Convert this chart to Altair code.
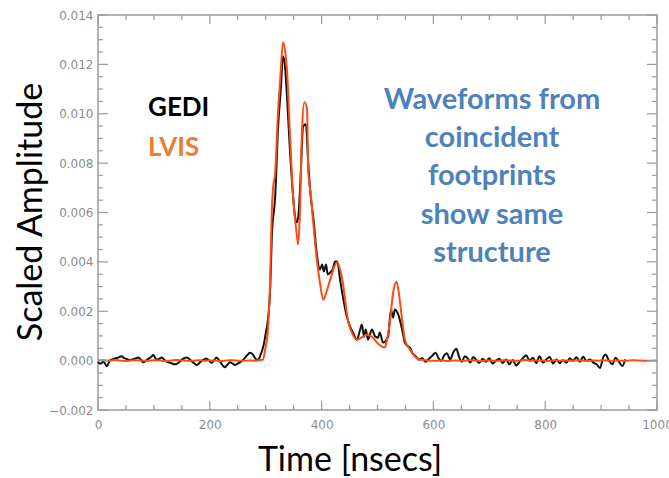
import altair as alt
import pandas as pd

# GEDI waveform (black): time [ns], amplitude in units of 1e-5
gedi_time = [0, 4, 10, 16, 21, 26, 30, 36, 42, 47, 51, 56, 60, 66, 72, 77, 81, 86, 90, 95,
             99, 102, 105, 110, 114, 118, 123, 128, 132, 137, 141, 146, 150, 155, 159, 164, 168, 173, 177, 182,
             186, 190, 194, 199, 203, 208, 212, 217, 221, 224, 227, 232, 236, 241, 245, 250, 254, 258, 262, 266,
             272, 277, 283, 287, 291, 296, 300, 304, 308, 311, 317, 322, 327, 331, 335, 338, 343, 349, 352, 356,
             359, 362, 367, 372, 376, 381, 385, 392, 397, 401, 404, 408, 411, 417, 420, 424, 428, 433, 438, 445,
             451, 456, 463, 469, 472, 476, 479, 483, 490, 496, 501, 504, 510, 519, 524, 528, 531, 537, 544, 549,
             555, 558, 562, 569, 574, 580, 586, 592, 598, 604, 609, 614, 619, 624, 630, 636, 641, 646, 651, 656,
             661, 666, 671, 676, 682, 688, 694, 700, 706, 712, 718, 724, 730, 736, 742, 748, 754, 760, 766, 772,
             778, 784, 790, 796, 802, 808, 814, 820, 826, 832, 838, 844, 850, 856, 862, 868, 874, 880, 886, 892,
             898, 904, 908, 914, 920, 926, 932, 938, 943]
gedi_amp = [-5, -13, -5, -23, 0, 5, 9, 12, 18, 10, 7, 2, 4, 8, 13, 3, -7, 0, 7, 15,
            23, 12, 4, 8, 13, 5, -4, -8, -11, -15, -13, -5, 4, 10, 13, 5, -4, -12, -18, -8,
            0, 5, 9, 0, -9, 2, 13, 0, -13, -22, -27, -15, -7, -12, -18, -12, -7, 0, 9, 20,
            32, 25, 5, 4, 25, 60, 110, 166, 288, 503, 665, 937, 1100, 1233, 1180, 1071, 868, 665, 592, 560,
            600, 720, 949, 957, 803, 653, 584, 422, 369, 389, 361, 389, 349, 361, 369, 402, 402, 329, 260, 179,
            138, 114, 85, 126, 146, 97, 126, 85, 126, 97, 93, 114, 73, 97, 207, 174, 207, 187, 126, 73,
            57, 53, 32, 16, 4, 10, -5, 8, 20, 32, 10, -2, 20, 30, 5, 35, 48, 15, -5, 18,
            10, -8, 15, 5, -10, 8, -5, 10, -12, 0, 8, -10, 5, -15, 3, -20, -5, 10, 22, 0,
            12, -10, 18, -8, 5, 15, -12, 5, -10, 2, -8, 10, 0, 14, -5, 16, -2, 5, -8, -15,
            -30, 15, 25, 0, -15, 12, -5, -22, 5]

# LVIS waveform (orange): time [ns], amplitude in units of 1e-5
lvis_time = [0, 10, 20, 30, 40, 50, 60, 70, 80, 90, 100, 110, 120, 130, 140, 150, 160, 170, 180, 190,
             200, 210, 220, 230, 240, 250, 260, 270, 280, 290, 295, 299, 304, 308, 311, 313, 317, 322, 326, 331,
             335, 338, 343, 349, 356, 358, 361, 365, 369, 374, 376, 381, 385, 392, 397, 403, 410, 417, 428, 433,
             438, 442, 447, 454, 463, 474, 481, 490, 499, 508, 513, 517, 522, 528, 534, 538, 544, 549, 558, 567,
             576, 585, 595, 605, 615, 625, 635, 645, 655, 665, 675, 685, 695, 705, 715, 725, 735, 745, 755, 765,
             775, 785, 795, 805, 815, 825, 835, 845, 855, 865, 875, 885, 895, 905, 915, 925, 935, 945, 955, 965,
             975, 985, 995, 1000]
lvis_amp = [1, 2, -1, 3, 0, -2, 1, 2, 0, -1, 2, 1, -2, 0, 3, 1, -1, 0, 2, -1,
            1, 0, -2, 1, 2, 0, -1, 1, 0, 2, 4, 45, 126, 329, 613, 694, 763, 1006, 1140, 1290,
            1250, 1180, 937, 665, 503, 471, 584, 937, 1047, 1018, 775, 665, 560, 398, 316, 247, 288, 341, 398, 369,
            316, 247, 166, 114, 85, 97, 105, 97, 73, 57, 53, 85, 154, 276, 320, 276, 166, 85, 45, 16,
            4, 2, 0, -1, 1, -2, 0, 1, -1, 2, 0, -2, 1, 0, -1, 2, 1, -1, 0, 3,
            -1, 1, 0, -2, 2, 0, 1, -1, 2, 0, -2, 1, 0, 2, -1, 1, 0, -1, 2, 1,
            0, -1, 1, 0]

x_major = [0, 200, 400, 600, 800, 1000]
x_minor = [50, 100, 150, 250, 300, 350, 450, 500, 550, 650, 700, 750, 850, 900, 950]
y_major = [-0.002, 0.0, 0.002, 0.004, 0.006, 0.008, 0.010, 0.012, 0.014]
y_minor = [-0.0015, -0.001, -0.0005, 0.0005, 0.001, 0.0015, 0.0025, 0.003, 0.0035,
           0.0045, 0.005, 0.0055, 0.0065, 0.007, 0.0075, 0.0085, 0.009, 0.0095,
           0.0105, 0.011, 0.0115, 0.0125, 0.013, 0.0135]

note_lines = ["Waveforms from", "coincident", "footprints", "show same", "structure"]

W, H = 559, 395
BOX = "#9a9a9a"
X0, X1 = 0, 1000
Y0, Y1 = -0.002, 0.014
px_x = (X1 - X0) / W   # data units per pixel
px_y = (Y1 - Y0) / H

gedi = pd.DataFrame({"t": gedi_time, "amp": [v * 1e-5 for v in gedi_amp]})
lvis = pd.DataFrame({"t": lvis_time, "amp": [v * 1e-5 for v in lvis_amp]})

# inward tick segments on all four sides of the box (data space)
rows = []
for vals, ln in [(x_major, 9), (x_minor, 5)]:
    for v in vals:
        rows.append({"x": v, "x2": v, "y": Y0, "y2": Y0 + ln * px_y})
        rows.append({"x": v, "x2": v, "y": Y1, "y2": Y1 - ln * px_y})
for vals, ln in [(y_major, 10), (y_minor, 5)]:
    for v in vals:
        rows.append({"x": X0, "x2": X0 + ln * px_x, "y": v, "y2": v})
        rows.append({"x": X1, "x2": X1 - ln * px_x, "y": v, "y2": v})
ticks = pd.DataFrame(rows)

xs = alt.Scale(domain=[X0, X1], nice=False, zero=False)
ys = alt.Scale(domain=[Y0, Y1], nice=False, zero=False)
XAX = alt.Axis(values=x_major, format="d", labelPadding=9, title="", labelFlush=False)
YAX = alt.Axis(values=y_major, format=".3f", labelPadding=5, title="", labelFlush=False)

gedi_line = alt.Chart(gedi).mark_line(color="#111111", strokeWidth=2, interpolate="monotone").encode(
    x=alt.X("t:Q", scale=xs, axis=XAX), y=alt.Y("amp:Q", scale=ys, axis=YAX))
lvis_line = alt.Chart(lvis).mark_line(color="#FF4A14", strokeWidth=2, interpolate="monotone").encode(
    x=alt.X("t:Q", scale=xs, axis=XAX), y=alt.Y("amp:Q", scale=ys, axis=YAX))
tick_rules = alt.Chart(ticks).mark_rule(color=BOX, strokeWidth=1.2).encode(
    x=alt.X("x:Q", scale=xs, axis=XAX), x2="x2:Q",
    y=alt.Y("y:Q", scale=ys, axis=YAX), y2="y2:Q")

layers = [gedi_line, lvis_line, tick_rules]

def label(text, x, y, size, color, weight="bold", angle=0, align="center"):
    return alt.Chart(pd.DataFrame({"label": [text]})).mark_text(
        font="Lato", fontSize=size, fontWeight=weight, color=color, align=align,
        baseline="middle", angle=angle
    ).encode(text="label:N", x=alt.value(x), y=alt.value(y))

layers.append(label("GEDI", 50, 93, 26, "black", align="left"))
layers.append(label("LVIS", 50, 133, 26, "#ED7D31", align="left"))
for i, line in enumerate(note_lines):
    layers.append(label(line, 394, 85 + i * 38.2, 29, "#4F81BD"))
layers.append(label("Scaled Amplitude", -66, 197, 34, "black", weight="normal", angle=270))
layers.append(label("Time [nsecs]", 252, H + 51, 34, "black", weight="normal"))

chart = alt.layer(*layers).properties(
    width=W, height=H,
    background="white",
    autosize=alt.AutoSizeParams(type="none"),
    padding={"left": 98, "top": 15, "right": 12, "bottom": 68},
).configure_view(stroke=BOX, strokeWidth=1.5).configure_axis(
    domain=False, ticks=False, grid=False, labelColor="#8c8c8c",
    labelFont="DejaVu Sans", labelFontSize=12)

chart.save("out.html", embed_options={"renderer": "svg", "actions": False})
